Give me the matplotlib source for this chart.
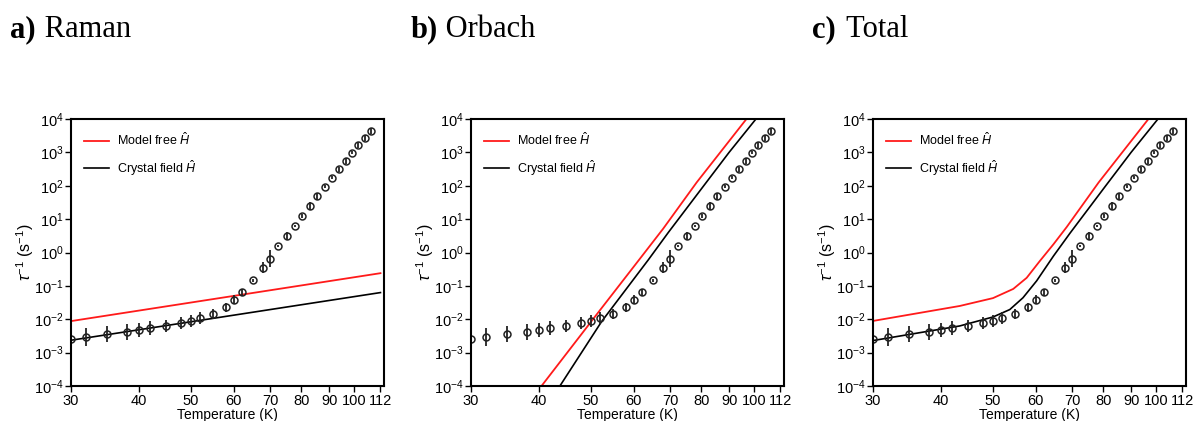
import numpy as np
import matplotlib.pyplot as plt
from matplotlib.ticker import FixedLocator, FixedFormatter, NullLocator, LogFormatterSciNotation

plt.rcParams['font.family'] = ['Liberation Sans', 'DejaVu Sans']
plt.rcParams['mathtext.fontset'] = 'custom'
plt.rcParams['mathtext.rm'] = 'Liberation Sans'
plt.rcParams['mathtext.it'] = 'Liberation Sans:italic'

temps = [30, 32, 35, 38, 40, 42, 45, 48, 50, 52, 55, 58, 60, 62, 65, 68, 70,
         72.4, 75.1, 77.7, 80.1, 82.9, 85.6, 88.3, 91.1, 93.8, 96.6, 99.3, 102.0, 104.8, 107.6]
rates = [2.6e-3, 2.9e-3, 3.6e-3, 4.2e-3, 4.8e-3, 5.4e-3, 6.3e-3, 7.8e-3, 8.8e-3, 1.06e-2, 1.47e-2,
         2.25e-2, 3.85e-2, 6.4e-2, 0.148, 0.35, 0.65,
         1.53, 3.1, 6.1, 12.2, 24.5, 48, 93, 175, 310, 555, 975, 1640, 2630, 4380]
# half width of error bar, in decades
err_dec = [0.05, 0.27, 0.24, 0.24, 0.21, 0.21, 0.19, 0.19, 0.18, 0.18, 0.15, 0.14, 0.13, 0.10,
           0.05, 0.16, 0.25, 0.03, 0.13, 0.03, 0.06, 0.12, 0.10, 0.04, 0.04, 0.08, 0.08, 0.04,
           0.09, 0.09, 0.10]

# Raman curves
raman_T = [30, 112]
raman_free = [8.8e-3, 0.24]
raman_cf = [2.35e-3, 0.063]

# Orbach curves
orbach_free_T = [39, 40.5, 51.2, 62.5, 68.0, 78.4, 96.9, 114]
orbach_free = [4.5e-5, 1e-4, 1.38e-2, 0.89, 5.2, 126, 1e4, 2.9e5]
orbach_cf_T = [42.5, 43.8, 52.3, 63.8, 69.5, 80.6, 90.0, 102.6, 114]
orbach_cf = [4.7e-5, 1e-4, 8.5e-3, 0.6, 4.0, 95, 1e3, 1.4e4, 1.1e5]

# Total curves
total_free_T = [30, 43.4, 50.0, 54.5, 57.7, 61.0, 64.7, 68.4, 78.4, 96.9, 114]
total_free = [8.9e-3, 2.5e-2, 4.3e-2, 8.1e-2, 0.174, 0.55, 1.78, 5.75, 126, 1e4, 2.9e5]
total_cf_T = [30, 43.4, 50.0, 53.7, 56.8, 60.2, 64.7, 69.4, 80.6, 90.0, 102.6, 114]
total_cf = [2.3e-3, 6.3e-3, 1.17e-2, 1.95e-2, 4.4e-2, 0.141, 0.79, 3.8, 95, 1e3, 1.4e4, 1.1e5]

xticks = [30, 40, 50, 60, 70, 80, 90, 100, 112]
yticks = [1e-4, 1e-3, 1e-2, 1e-1, 1e0, 1e1, 1e2, 1e3, 1e4]
panels = [("a)", " Raman", raman_T, raman_free, raman_T, raman_cf),
          ("b)", " Orbach", orbach_free_T, orbach_free, orbach_cf_T, orbach_cf),
          ("c)", " Total", total_free_T, total_free, total_cf_T, total_cf)]

W, H = 1193, 421
fig = plt.figure(figsize=(W / 100, H / 100), dpi=100)

r = np.array(rates)
e = np.array(err_dec)
yerr = [r * (1 - 10 ** -e), r * (10 ** e - 1)]

lefts = [71, 471, 873]
title_x = [10, 411, 812]
for i, (lab, name, fT, fv, cT, cv) in enumerate(panels):
    ax = fig.add_axes([lefts[i] / W, 35 / H, 313 / W, 267 / H])
    ax.plot(fT, fv, color='#ff1a1a', lw=1.3, label=r'Model free $\hat{H}$')
    ax.plot(cT, cv, color='black', lw=1.2, label=r'Crystal field $\hat{H}$')
    ax.errorbar(temps, rates, yerr=yerr, fmt='o', ms=5, mfc='none', mec='#222222',
                mew=1.1, ecolor='#222222', elinewidth=1.3, capsize=0)
    ax.set_xscale('log')
    ax.set_yscale('log')
    ax.set_xlim(30, 113.7)
    ax.set_ylim(1e-4, 1e4)
    ax.xaxis.set_major_locator(FixedLocator(xticks))
    ax.xaxis.set_major_formatter(FixedFormatter([str(t) for t in xticks]))
    ax.xaxis.set_minor_locator(NullLocator())
    ax.yaxis.set_major_locator(FixedLocator(yticks))
    ax.yaxis.set_major_formatter(LogFormatterSciNotation())
    ax.yaxis.set_minor_locator(NullLocator())
    ax.tick_params(direction='out', length=4, width=1, labelsize=10.5, pad=1.5)
    for s in ax.spines.values():
        s.set_linewidth(1.5)
    ax.set_xlabel('Temperature (K)', fontsize=10, labelpad=0)
    ax.set_ylabel(r'$\tau^{-1}$ (s$^{-1}$)', fontsize=11.5, labelpad=-2)
    ax.legend(loc='upper left', frameon=False, fontsize=9, handlelength=2.0,
              handletextpad=0.7, borderaxespad=0.6, labelspacing=0.8)
    fig.text(title_x[i] / W, 1 - 37 / H, lab, fontsize=22, fontweight='bold',
             family='Liberation Serif', va='baseline')
    fig.text((title_x[i] + 27) / W, 1 - 37 / H, name, fontsize=22,
             family='Liberation Serif', va='baseline')

fig.savefig('out.png', dpi=100)
